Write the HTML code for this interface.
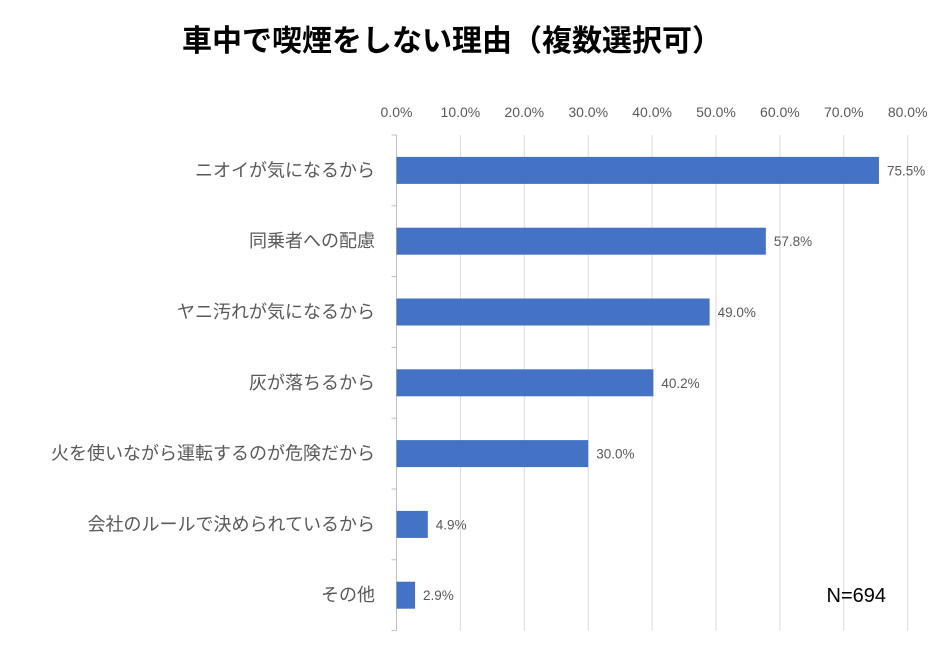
<!DOCTYPE html>
<html><head><meta charset="utf-8"><style>
body{margin:0;background:#fff;}
svg text{font-family:"Liberation Sans","Noto Sans CJK JP",sans-serif;}
</style></head><body>
<svg width="934" height="648" viewBox="0 0 934 648">
<text x="452" y="51" text-anchor="middle" font-size="30" font-weight="bold" fill="#000">車中で喫煙をしない理由（複数選択可）</text>
<g id="grid"></g><g id="bars"></g>
<text x="886" y="602" text-anchor="end" font-size="20" fill="#000">N=694</text>
</svg>
<script>
const categories=["ニオイが気になるから","同乗者への配慮","ヤニ汚れが気になるから","灰が落ちるから","火を使いながら運転するのが危険だから","会社のルールで決められているから","その他"];
const values=[75.5,57.8,49.0,40.2,30.0,4.9,2.9];
const ticks=[0,10,20,30,40,50,60,70,80];
const NS="http://www.w3.org/2000/svg";
const x0=396.5,pxPer=63.9/10,topY=135,rowH=70.8;
const xs=v=>x0+v*pxPer;
const g=document.getElementById('grid'),b=document.getElementById('bars');
function mk(tag,attrs,parent,text){const e=document.createElementNS(NS,tag);for(const k in attrs)e.setAttribute(k,attrs[k]);if(text!=null)e.textContent=text;parent.appendChild(e);return e;}
const bottomY=topY+rowH*categories.length;
ticks.forEach(t=>{
 const l=mk('line',{x1:xs(t),x2:xs(t),y1:topY,y2:bottomY,stroke:t===0?'#bfbfbf':'#d9d9d9','stroke-width':1},g);
 
 
 const tx=mk('text',{x:xs(t),y:117,'text-anchor':'middle','font-size':14,fill:'#595959'},g,t.toFixed(1)+'%');
 
 
});
for(let i=0;i<=categories.length;i++){
 const tk=mk('line',{x1:x0-5,x2:x0,y1:topY+i*rowH,y2:topY+i*rowH,stroke:'#bfbfbf'},g);
 
 
}
categories.forEach((c,i)=>{
 const cy=topY+rowH*(i+0.5);
 const r=mk('rect',{x:x0,y:cy-13.5,width:xs(values[i])-x0,height:27,fill:'#4472c4'},b);
 
 
 const lb=mk('text',{x:375,y:cy+6,'text-anchor':'end','font-size':18,fill:'#595959'},b,c);
 
 
 const vl=mk('text',{x:xs(values[i])+8,y:cy+5,'font-size':13.5,fill:'#595959'},b,values[i].toFixed(1)+'%');
 
 
});
</script>
</body></html>
